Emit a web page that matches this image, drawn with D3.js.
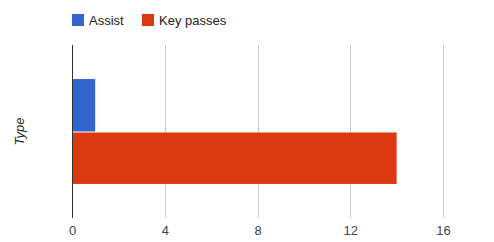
<!DOCTYPE html>
<html><head><meta charset="utf-8">
<script src="https://cdn.jsdelivr.net/npm/d3@7"></script>
<style>body{margin:0;background:#fff;}svg{display:block;font-family:Arial,"Liberation Sans",sans-serif;}</style>
</head><body>
<script>
const categories = [""];
const seriesNames = ["Assist", "Key passes"];
const seriesColors = ["#3366cc", "#dc3912"];
const assistValues = [1];
const keyPassValues = [14];
const xTicks = [0, 4, 8, 12, 16];
const axisTitle = "Type";

const W = 494, H = 242;
const m = {left: 72, right: 51, top: 45, bottom: 24};
const svg = d3.select("body").append("svg").attr("width", W).attr("height", H);

const x = d3.scaleLinear().domain([0, 16]).range([m.left, W - m.right]);
const y0 = d3.scaleBand().domain(categories).range([m.top, H - m.bottom]).padding(0.245);
const y1 = d3.scaleBand().domain(seriesNames).range([0, y0.bandwidth()]);

// gridlines
svg.append("g").selectAll("line").data(xTicks.filter(t => t !== 0)).join("line")
  .attr("x1", d => Math.round(x(d)) + 0.5).attr("x2", d => Math.round(x(d)) + 0.5)
  .attr("y1", m.top).attr("y2", H - m.bottom)
  .attr("stroke", "#cccccc").attr("stroke-width", 1);

// bars
const data = categories.map((c, i) => ({cat: c, vals: [assistValues[i], keyPassValues[i]]}));
const g = svg.append("g");
data.forEach(d => {
  g.selectAll(null).data(d.vals.map((v, j) => ({v, s: seriesNames[j], c: seriesColors[j]}))).join("rect")
    .attr("x", x(0))
    .attr("y", e => y0(d.cat) + y1(e.s) + (e.s === seriesNames[1] ? 1 : 0))
    .attr("width", e => x(e.v) - x(0))
    .attr("height", e => y1.bandwidth() - 1 + (e.s === seriesNames[1] ? 0 : 1))
    .attr("fill", e => e.c);
});

// baseline
svg.append("line").attr("x1", Math.round(x(0)) + 0.5).attr("x2", Math.round(x(0)) + 0.5)
  .attr("y1", m.top).attr("y2", H - m.bottom).attr("stroke", "#333333");

// tick labels
const ax = d3.axisBottom(x).tickValues(xTicks).tickSize(0).tickPadding(0);
const axG = svg.append("g").attr("transform", `translate(0,${H - m.bottom})`).call(ax);
axG.select(".domain").remove();
axG.selectAll("text").attr("y", 17).attr("dy", 0).attr("fill", "#444444").attr("font-size", 13)
  .attr("font-family", "Arial, 'Liberation Sans', sans-serif");

// axis title
svg.append("text").attr("transform", `translate(24,${(m.top + H - m.bottom) / 2}) rotate(-90)`)
  .attr("text-anchor", "middle").attr("font-style", "italic").attr("font-size", 13)
  .attr("fill", "#222222").text(axisTitle);

// legend
const leg = svg.append("g");
const legX = [72, 142];
seriesNames.forEach((s, i) => {
  leg.append("rect").attr("x", legX[i]).attr("y", 14).attr("width", 12).attr("height", 12).attr("fill", seriesColors[i]);
  leg.append("text").attr("x", legX[i] + 17).attr("y", 25).attr("font-size", 13).attr("fill", "#222222").text(s);
});
</script>
</body></html>
